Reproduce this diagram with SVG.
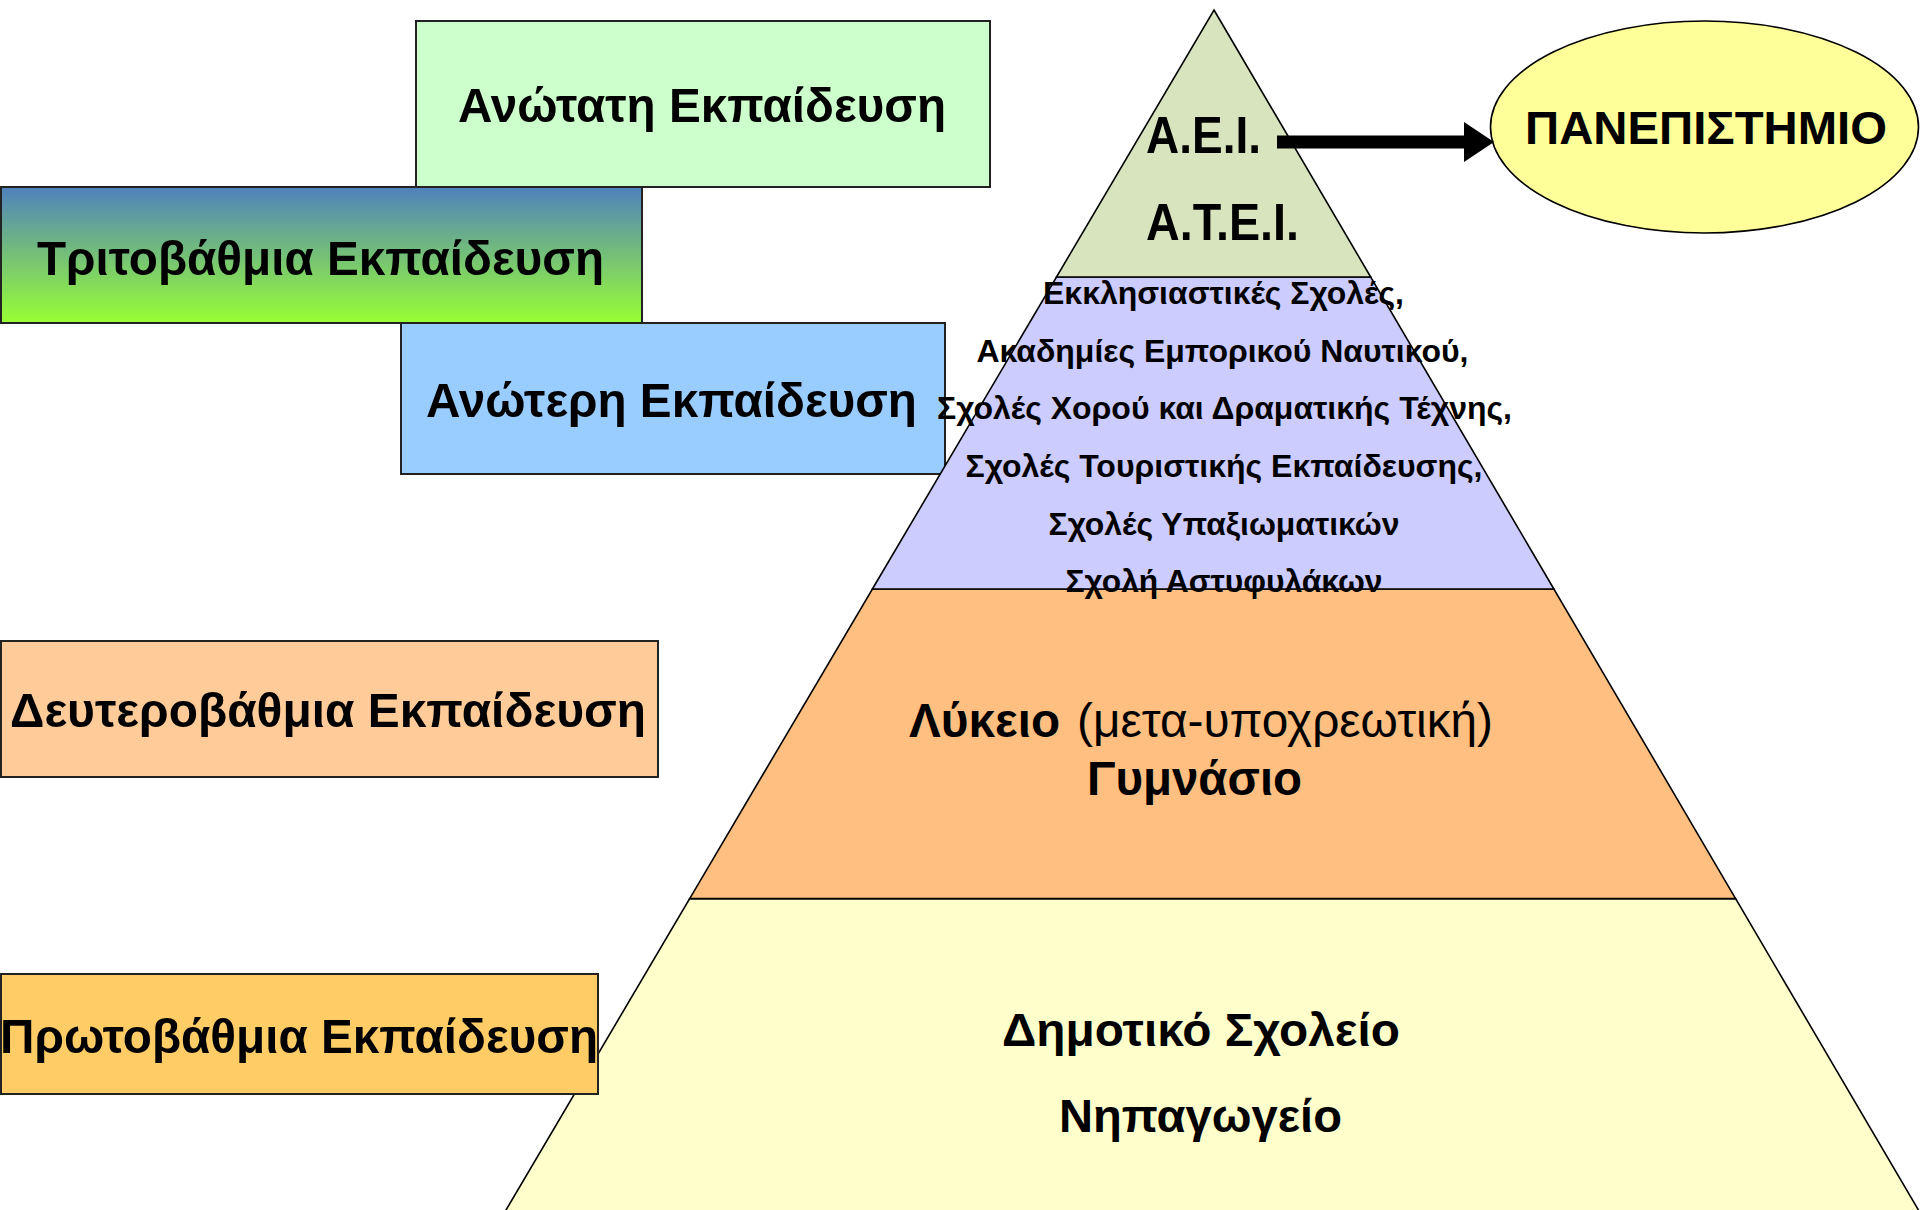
<svg xmlns="http://www.w3.org/2000/svg" width="1920" height="1210" viewBox="0 0 1920 1210">
  <style>
    text { font-family: "Liberation Sans", Arial, sans-serif; fill: #000; }
    .b { font-weight: bold; }
    .n { font-weight: normal; }
    .box { stroke: #222; stroke-width: 2; }
    .layer { stroke: #000; stroke-width: 1.6; }
    .lbl { font-size: 49px; font-weight: bold; }
    .small { font-size: 30.5px; font-weight: bold; }
  </style>
  <defs>
    <linearGradient id="gradTri" x1="0" y1="0" x2="0" y2="1">
      <stop offset="0" stop-color="#4F81BD"/>
      <stop offset="1" stop-color="#99FF33"/>
    </linearGradient>
    <marker id="arrowHead" markerUnits="userSpaceOnUse" markerWidth="32" markerHeight="40" viewBox="0 0 32 40" refX="1" refY="20" orient="auto">
      <path d="M0,0 L30,20 L0,40 z" fill="#000"/>
    </marker>
  </defs>

  <rect width="1920" height="1210" fill="#fff"/>

  <!-- left-side level boxes -->
  <g id="box-anotati">
    <rect class="box" x="416" y="21" width="574" height="166" fill="#CCFFCC"/>
    <text class="lbl" x="458" y="122" textLength="488" lengthAdjust="spacingAndGlyphs">Ανώτατη Εκπαίδευση</text>
  </g>
  <g id="box-tritovathmia">
    <rect class="box" x="1" y="187" width="641" height="136" fill="url(#gradTri)"/>
    <text class="lbl" x="37" y="274.5" textLength="567" lengthAdjust="spacingAndGlyphs">Τριτοβάθμια Εκπαίδευση</text>
  </g>
  <g id="box-anoteri">
    <rect class="box" x="401" y="323" width="544" height="151" fill="#99CCFF"/>
    <text class="lbl" x="426" y="417" textLength="491" lengthAdjust="spacingAndGlyphs">Ανώτερη Εκπαίδευση</text>
  </g>
  <g id="box-deuterovathmia">
    <rect class="box" x="1" y="641" width="657" height="136" fill="#FFCC99"/>
    <text class="lbl" x="10" y="727" textLength="636" lengthAdjust="spacingAndGlyphs">Δευτεροβάθμια Εκπαίδευση</text>
  </g>

  <!-- pyramid layers -->
  <g id="layer-primary">
    <polygon class="layer" points="689.7,898.6 1735.6,898.6 1924.3,1220 500.1,1220" fill="#FFFFCC"/>
    <text class="b" font-size="46" x="1002" y="1046" textLength="398" lengthAdjust="spacingAndGlyphs">Δημοτικό Σχολείο</text>
    <text class="b" font-size="46" x="1059" y="1131.5" textLength="283" lengthAdjust="spacingAndGlyphs">Νηπαγωγείο</text>
  </g>
  <g id="layer-secondary">
    <polygon class="layer" points="872.4,589 1553.9,589 1735.6,898.6 689.7,898.6" fill="#FFBF80"/>
    <text class="b" font-size="48" x="909" y="736.5" textLength="151" lengthAdjust="spacingAndGlyphs">Λύκειο</text>
    <text class="n" font-size="48" x="1077" y="736.5" textLength="416" lengthAdjust="spacingAndGlyphs">(μετα-υποχρεωτική)</text>
    <text class="b" font-size="48" x="1087" y="794.5" textLength="215" lengthAdjust="spacingAndGlyphs">Γυμνάσιο</text>
  </g>
  <g id="layer-anoteri">
    <polygon class="layer" points="1056.5,277 1370.7,277 1553.9,589 872.4,589" fill="#CCCCFF"/>
    <text class="small" x="1043" y="304" textLength="361" lengthAdjust="spacingAndGlyphs">Εκκλησιαστικές Σχολές,</text>
    <text class="small" x="976.5" y="362" textLength="492" lengthAdjust="spacingAndGlyphs">Ακαδημίες Εμπορικού Ναυτικού,</text>
    <text class="small" x="937" y="419" textLength="575" lengthAdjust="spacingAndGlyphs">Σχολές Χορού και Δραματικής Τέχνης,</text>
    <text class="small" x="965.5" y="477" textLength="517" lengthAdjust="spacingAndGlyphs">Σχολές Τουριστικής Εκπαίδευσης,</text>
    <text class="small" x="1048.5" y="535" textLength="351" lengthAdjust="spacingAndGlyphs">Σχολές Υπαξιωματικών</text>
    <text class="small" x="1065.5" y="591.5" textLength="317" lengthAdjust="spacingAndGlyphs">Σχολή Αστυφυλάκων</text>
  </g>
  <g id="layer-anotati">
    <polygon class="layer" points="1214,10 1370.7,277 1056.5,277" fill="#D7E4BD"/>
    <text class="b" font-size="51" x="1146" y="153" textLength="115" lengthAdjust="spacingAndGlyphs">A.E.I.</text>
    <text class="b" font-size="51" x="1146" y="239.5" textLength="153" lengthAdjust="spacingAndGlyphs">A.T.E.I.</text>
  </g>

  <g id="box-protovathmia">
    <rect class="box" x="1" y="974" width="597" height="120" fill="#FFCC66" stroke="#000"/>
    <text class="lbl" x="0" y="1052.5" textLength="598" lengthAdjust="spacingAndGlyphs">Πρωτοβάθμια Εκπαίδευση</text>
  </g>

  <g id="node-panepistimio">
    <ellipse cx="1704.5" cy="127" rx="214" ry="106" fill="#FFFF99" stroke="#000" stroke-width="1.6"/>
    <text class="b" font-size="47" x="1525" y="144" textLength="362" lengthAdjust="spacingAndGlyphs">ΠΑΝΕΠΙΣΤΗΜΙΟ</text>
  </g>

  <g id="connectors">
    <line x1="1277" y1="142" x2="1465" y2="142" stroke="#000" stroke-width="13" marker-end="url(#arrowHead)"/>
  </g>
</svg>
